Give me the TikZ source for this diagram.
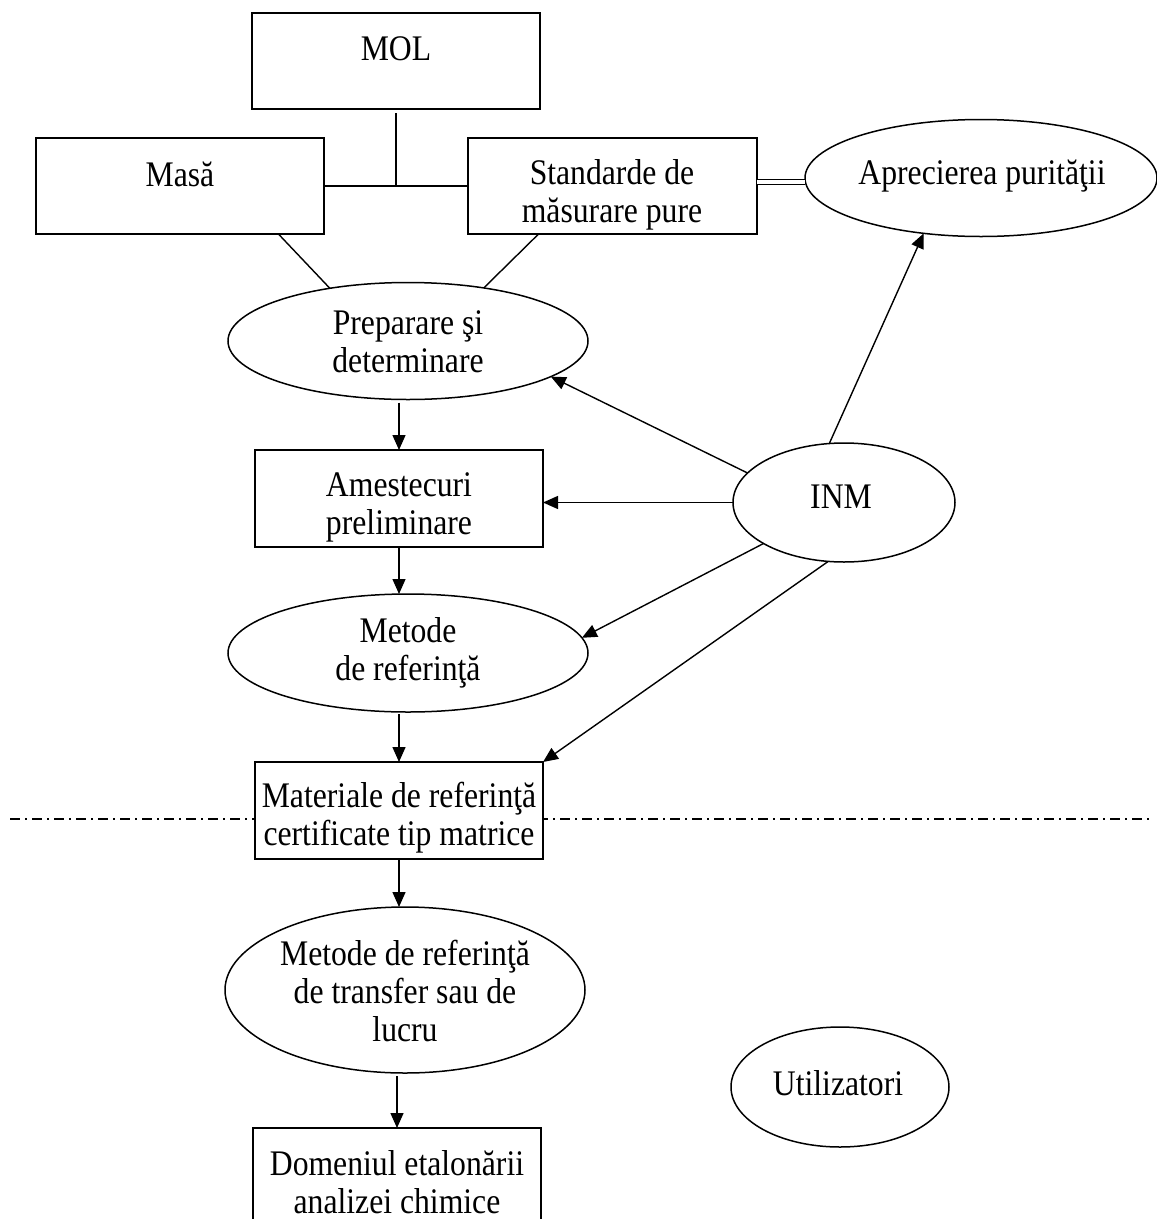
\documentclass[tikz,border=0pt]{standalone}
\usepackage{fontspec}
\setmainfont{Liberation Serif}[FakeStretch=0.88]
\usetikzlibrary{arrows.meta,shapes.geometric}
\begin{document}
\begin{tikzpicture}[x=1pt,y=-1pt,
  box/.style={draw, line width=1.5pt, rectangle, inner sep=0pt, outer sep=0pt, fill=white},
  oval/.style={draw, line width=1.5pt, ellipse, inner sep=0pt, outer sep=0pt, fill=white},
  lbl/.style={font=\fontsize{36}{38}\selectfont, align=center, inner sep=0pt},
  conn/.style={line width=1.4pt},
  arr/.style={line width=1.4pt, -{Triangle[length=15pt,width=13pt]}},
  dbl/.style={double, double distance=4pt, line width=1.3pt},
  sepline/.style={line width=1.2pt, dash pattern=on 10pt off 5pt on 2pt off 5pt}]
\useasboundingbox (0,0) rectangle (1157,1219);
\clip (0,0) rectangle (1157,1219);

% separator line
\coordinate (dl) at (10,819);
\coordinate (dr) at (1150,819);
\draw[sepline] (dl) -- (dr);

% nodes
\node[box, minimum width=288pt, minimum height=96pt] (mol) at (396,61) {};
\node[lbl] (molt) at (396,49) {MOL};
\node[box, minimum width=288pt, minimum height=96pt] (masa) at (180,186) {};
\node[lbl] (masat) at (180,174) {Masă};
\node[box, minimum width=289pt, minimum height=96pt] (std) at (612.5,186) {};
\node[lbl] (stdt) at (612,195) {Standarde de\\măsurare pure};
\node[oval, minimum width=352pt, minimum height=117pt] (apr) at (981,178) {};
\node[lbl] (aprt) at (982,176) {Aprecierea purităţii};
\node[oval, minimum width=360pt, minimum height=117pt] (prep) at (408,341) {};
\node[lbl] (prept) at (408,342) {Preparare şi\\determinare};
\node[box, minimum width=288pt, minimum height=97pt] (ames) at (399,498.5) {};
\node[lbl] (amest) at (399,507) {Amestecuri\\preliminare};
\node[oval, minimum width=222pt, minimum height=119pt] (inm) at (844,502.5) {};
\node[lbl] (inmt) at (841,497) {INM};
\node[oval, minimum width=360pt, minimum height=118pt] (met) at (408,653) {};
\node[lbl] (mett) at (408,653) {Metode\\de referinţă};
\node[box, minimum width=288pt, minimum height=97pt] (mat) at (399,810.5) {};
\node[lbl] (matt) at (399,818) {Materiale de referinţă\\certificate tip matrice};
\node[oval, minimum width=360pt, minimum height=166pt] (trf) at (405,990) {};
\node[lbl] (trft) at (405,991) {Metode de referinţă\\de transfer sau de\\lucru};
\node[oval, minimum width=218pt, minimum height=120pt] (util) at (840,1087) {};
\node[lbl] (utilt) at (838,1083) {Utilizatori};
\node[box, minimum width=288pt, minimum height=112pt] (dom) at (397,1184) {};
\node[lbl] (domt) at (397,1182) {Domeniul etalonării\\analizei chimice};

% connectors
\coordinate (j) at (mol.south |- masa.east);
\draw[conn] ([yshift=-4pt]mol.south) -- (j);
\draw[conn] (masa.east) -- (std.west);
\draw[conn] (masa.-26.3) -- (prep.146);
\draw[conn] (std.213.5) -- (prep.35);
\draw[dbl] ([yshift=4pt]std.east) -- ([yshift=4pt]std.east -| apr.west);

\draw[arr] ([yshift=-3pt]prep.south -| ames.north) -- (ames.north);
\draw[arr] (ames.south) -- (ames.south |- met.north);
\draw[arr] ([yshift=-2pt]met.south -| mat.north) -- (mat.north);
\draw[arr] (mat.south) -- (mat.south |- trf.north);
\draw[arr] ([yshift=-3pt]trf.south -| dom.north) -- (dom.north);

\draw[arr] (inm.163.5) -- (prep.-14.3);
\draw[arr] (inm.west) -- (inm.west -| ames.east);
\draw[arr] (inm.207.6) -- (met.5);
\draw[arr] (inm.255) -- (mat.north east);
\draw[arr] (inm.104.5) -- (apr.224.5);
\end{tikzpicture}
\end{document}
